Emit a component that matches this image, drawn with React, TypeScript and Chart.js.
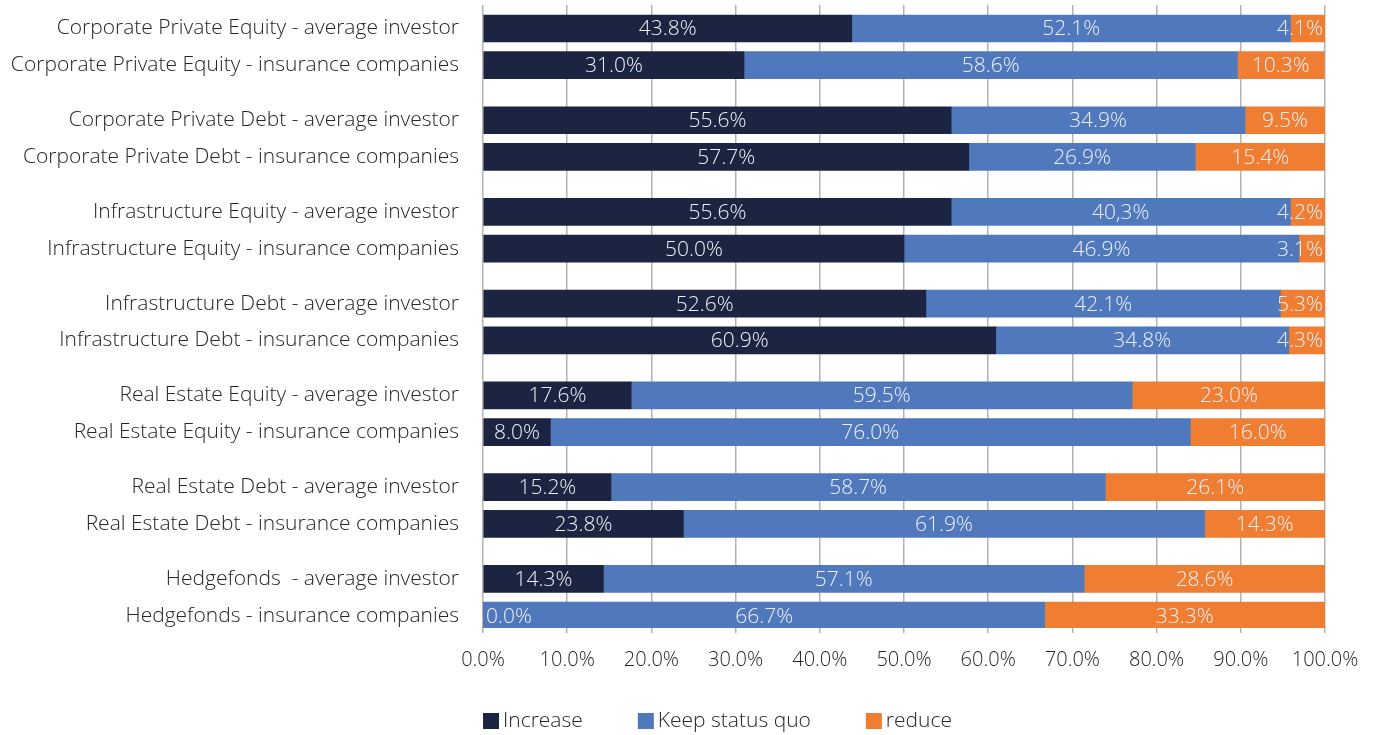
import React, { useEffect, useRef } from "react";
import { Chart, registerables } from "chart.js";

Chart.register(...registerables);

const categories = [
  "Corporate Private Equity - average investor",
  "Corporate Private Equity - insurance companies",
  "Corporate Private Debt - average investor",
  "Corporate Private Debt - insurance companies",
  "Infrastructure Equity - average investor",
  "Infrastructure Equity - insurance companies",
  "Infrastructure Debt - average investor",
  "Infrastructure Debt - insurance companies",
  "Real Estate Equity - average investor",
  "Real Estate Equity - insurance companies",
  "Real Estate Debt - average investor",
  "Real Estate Debt - insurance companies",
  "Hedgefonds  - average investor",
  "Hedgefonds - insurance companies",
];

const increase = [43.8, 31.0, 55.6, 57.7, 55.6, 50.0, 52.6, 60.9, 17.6, 8.0, 15.2, 23.8, 14.3, 0.0];
const keepStatusQuo = [52.1, 58.6, 34.9, 26.9, 40.3, 46.9, 42.1, 34.8, 59.5, 76.0, 58.7, 61.9, 57.1, 66.7];
const reduce = [4.1, 10.3, 9.5, 15.4, 4.2, 3.1, 5.3, 4.3, 23.0, 16.0, 26.1, 14.3, 28.6, 33.3];

const seriesNames = ["Increase", "Keep status quo", "reduce"];
const xTicks = [0, 10, 20, 30, 40, 50, 60, 70, 80, 90, 100];

// label text as printed in the source (one uses a decimal comma)
const labelOverrides: Record<string, string> = { "1-4": "40,3%" };

const COLORS = ["#1b2441", "#4f78bd", "#ef7e33"];
const FONT = "'Open Sans', 'Noto Sans', sans-serif";

// row positions on the index axis: pairs per group, wider gap between groups
const GROUP_STEP = 2.5;
const positions = categories.map((_, i) => Math.floor(i / 2) * GROUP_STEP + (i % 2));
const Y_MIN = -0.64;
const Y_MAX = positions[positions.length - 1] + 0.34;

const labelPlugin = {
  id: "barLabels",
  afterDatasetsDraw(chart: any) {
    const ctx = chart.ctx;
    const { left, right } = chart.chartArea;
    ctx.save();
    ctx.font = `300 21px ${FONT}`;
    ctx.fillStyle = "#eef0f6";
    ctx.textBaseline = "middle";
    ctx.textAlign = "center";
    chart.data.datasets.forEach((ds: any, di: number) => {
      const meta = chart.getDatasetMeta(di);
      meta.data.forEach((bar: any, i: number) => {
        const v = ds.data[i].x;
        const text = labelOverrides[`${di}-${i}`] ?? `${v.toFixed(1)}%`;
        const w = ctx.measureText(text).width;
        let cx = (bar.x + bar.base) / 2;
        if (cx - w / 2 < left + 3) cx = left + 3 + w / 2;
        if (cx + w / 2 > right - 2) cx = right - 2 - w / 2;
        ctx.fillText(text, cx, bar.y + 1);
      });
    });
    ctx.restore();
  },
};

const legendPlugin = {
  id: "customLegend",
  afterDraw(chart: any) {
    const ctx = chart.ctx;
    ctx.save();
    ctx.font = `300 21px ${FONT}`;
    ctx.textBaseline = "middle";
    ctx.textAlign = "left";
    let x = chart.chartArea.left;
    const y = 721;
    chart.data.datasets.forEach((ds: any) => {
      ctx.fillStyle = ds.backgroundColor;
      ctx.fillRect(x, y - 8, 16, 16);
      ctx.fillStyle = "#262626";
      ctx.fillText(ds.label, x + 20, y);
      x += 20 + ctx.measureText(ds.label).width + 55;
    });
    ctx.restore();
  },
};

export default function App() {
  const ref = useRef<HTMLCanvasElement>(null);
  useEffect(() => {
    document.body.style.margin = "0";
    const series = [increase, keepStatusQuo, reduce];
    const chart = new Chart(ref.current!, {
      type: "bar",
      data: {
        datasets: series.map((vals, s) => ({
          label: seriesNames[s],
          data: vals.map((v, i) => ({ x: v, y: positions[i] })),
          backgroundColor: COLORS[s],
          borderWidth: 0,
          barThickness: 27,
        })),
      },
      plugins: [labelPlugin, legendPlugin],
      options: {
        indexAxis: "y",
        animation: false,
        responsive: false,
        devicePixelRatio: 1,
        layout: { padding: { left: 0, right: 50, top: 5, bottom: 57 } },
        plugins: { legend: { display: false }, tooltip: { enabled: false } },
        scales: {
          x: {
            type: "linear",
            stacked: true,
            min: 0,
            max: 100,
            afterBuildTicks: (scale: any) => {
              scale.ticks = xTicks.map((v) => ({ value: v }));
            },
            afterFit: (scale: any) => {
              scale.height = 50;
            },
            grid: { color: "#b3b3b3", lineWidth: 1.5, tickLength: 5 },
            border: { display: false },
            ticks: {
              padding: 15,
              color: "#262626",
              font: { family: FONT, size: 20, weight: "300" },
              callback: (v: any) => `${Number(v).toFixed(1)}%`,
            },
          },
          y: {
            type: "linear",
            stacked: true,
            reverse: true,
            offset: false,
            bounds: "data",
            min: Y_MIN,
            max: Y_MAX,
            afterBuildTicks: (scale: any) => {
              scale.ticks = positions.map((v) => ({ value: v }));
              scale.min = Y_MIN;
              scale.max = Y_MAX;
            },
            afterFit: (scale: any) => {
              scale.width = 483;
              scale.paddingTop = 0;
              scale.paddingBottom = 0;
            },
            grid: { display: false, offset: false },
            border: { display: false },
            ticks: {
              autoSkip: false,
              padding: 16,
              color: "#262626",
              font: { family: FONT, size: 21, weight: "300" },
              callback: (v: any) => {
                const i = positions.indexOf(Number(v));
                return i >= 0 ? categories[i] : "";
              },
            },
          },
        },
      },
    } as any);
    return () => chart.destroy();
  }, []);
  return <canvas ref={ref} width={1375} height={735} />;
}
